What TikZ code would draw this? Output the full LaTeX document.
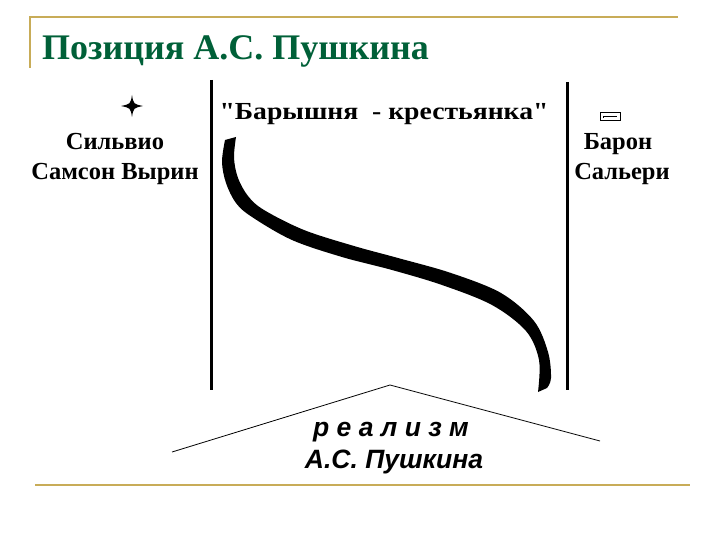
\documentclass[tikz,border=0pt]{standalone}
\usepackage{fontspec}
\setmainfont{Liberation Serif}
\newfontfamily\arialf{Liberation Sans}
\newfontfamily\novelfont[Ligatures=TeXOff]{Liberation Serif}
\definecolor{frameGold}{RGB}{200,172,88}
\definecolor{titleGreen}{RGB}{0,96,56}
\tikzset{
  serifTxt/.style={anchor=base, inner sep=0pt, font=\bfseries\fontsize{24.5}{30}\selectfont},
  sansTxt/.style={anchor=base, inner sep=0pt, font=\arialf\bfseries\itshape\fontsize{26.5}{30}\selectfont},
  divider/.style={line width=3pt},
  roof/.style={line width=0.8pt}
}
\begin{document}
\begin{tikzpicture}[x=1pt,y=-1pt]
\useasboundingbox (0,0) rectangle (720,540);
% frame
\draw[frameGold, line width=2pt] (30,68) -- (30,17) -- (678,17);
\draw[frameGold, line width=2.5pt] (35,485) -- (690,485);
% title
\node[anchor=base west, inner sep=0pt, text=titleGreen, font=\bfseries\fontsize{36}{40}\selectfont] (title) at (42,60) {Позиция А.С. Пушкина};
% left texts
\fill (132,95) .. controls (133.5,104) .. (143,106) .. controls (133.5,108) .. (132,117) .. controls (130.5,108) .. (121,106) .. controls (130.5,104) .. (132,95) -- cycle;
\node[serifTxt] (silvio) at (115,150) {Сильвио};
\node[serifTxt] (vyrin) at (115,180) {Самсон Вырин};
% right texts
\draw[line width=0.7pt] (600,112) rectangle (620,120);
\draw[line width=0.7pt] (603,116) -- (617,116);
\draw[line width=0.7pt] (603,116) -- (603,118);
\node[serifTxt] (baron) at (618,150) {Барон};
\node[serifTxt] (salieri) at (622,180) {Сальери};
% center title
\node[serifTxt, font=\novelfont\bfseries\fontsize{24.5}{30}\selectfont] (novel) at (384,120) {\scalebox{1.13}[1]{"Барышня\ \ - крестьянка"}};
% dividers
\coordinate (lt) at (211,80); \coordinate (lb) at (211,390);
\coordinate (rt) at (567,82); \coordinate (rb) at (567,390);
\draw[divider] (lt) -- (lb);
\draw[divider] (rt) -- (rb);
% S curve
\fill plot[smooth, tension=0.55] coordinates {(225,140) (222,162) (226,183) (236,203) (252,217) (292,240) (342,257) (392,270) (442,285) (492,305) (526,331) (539,360) (538,392)}
  -- plot[smooth, tension=0.55] coordinates {(547,388) (551,378) (548,352) (534,321) (501,293) (451,273) (398,258) (354,246) (304,230) (264,210) (248,196) (238,178) (234,158) (236,137)} -- cycle;
% roof
\coordinate (rl) at (172,452); \coordinate (rp) at (390,385); \coordinate (rr) at (600,441);
\draw[roof] (rl) -- (rp) -- (rr);
\node[sansTxt] (real) at (391,436) {р е а л и з м};
\node[sansTxt] (push) at (394,468) {А.С. Пушкина};
\end{tikzpicture}
\end{document}
